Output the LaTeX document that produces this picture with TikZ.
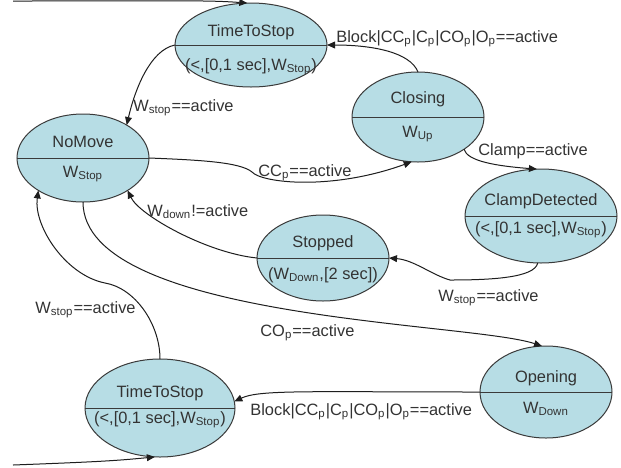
\documentclass[tikz,border=0pt]{standalone}
\usepackage{fontspec}
\setmainfont{Liberation Sans}
\usetikzlibrary{arrows.meta,shapes.geometric}
\definecolor{StateFill}{HTML}{B7DDE5}
\definecolor{StateLine}{HTML}{3A3A3A}
\definecolor{Ink}{HTML}{333333}
\definecolor{Wire}{HTML}{1E1E1E}
\tikzset{
 state/.style={ellipse, draw=StateLine, fill=StateFill, line width=0.5pt, inner sep=0pt, outer sep=0pt},
 stext/.style={anchor=base, inner sep=0pt, text=Ink},
 guard/.style={anchor=base west, inner sep=0pt, text=Ink},
 divider/.style={draw=StateLine, line width=0.5pt},
 trans/.style={-{Triangle[length=4pt,width=3.4pt]}, draw=Wire, line width=0.5pt}
}
\newcommand{\ssub}[1]{\textsubscript{#1}}

\begin{document}
\begin{tikzpicture}[x=0.5pt, y=-0.5pt, font=\fontsize{8.2}{10}\selectfont]
\fill[white] (0,0) rectangle (621,467);
\useasboundingbox (0,0) rectangle (621,467);

% states
\node[state, minimum width=76pt, minimum height=42pt] (ttsA) at (251,45) {};
\node[state, minimum width=66pt, minimum height=44pt] (noMove) at (83,158) {};
\node[state, minimum width=66pt, minimum height=45pt] (closing) at (418,117) {};
\node[state, minimum width=76pt, minimum height=47pt] (clampDet) at (541,216) {};
\node[state, minimum width=66pt, minimum height=43pt] (stopped) at (323,258) {};
\node[state, minimum width=75pt, minimum height=49pt] (ttsB) at (160,408) {};
\node[state, minimum width=66pt, minimum height=46pt] (opening) at (546,392) {};
\foreach \s in {ttsA,noMove,closing,clampDet,stopped,ttsB,opening}
  \draw[divider] (\s.west) -- (\s.east);

% state texts
\node[stext] (ttsAU) at (251,36) {TimeToStop};
\node[stext] (ttsAL) at (251,70) {(<,[0,1 sec],W\ssub{Stop})};
\node[stext] (noMoveU) at (83,147) {NoMove};
\node[stext] (noMoveL) at (83,177) {W\ssub{Stop}};
\node[stext] (closingU) at (418,103) {Closing};
\node[stext] (closingL) at (418,137) {W\ssub{Up}};
\node[stext] (clampDetU) at (541,205) {ClampDetected};
\node[stext] (clampDetL) at (541,233) {(<,[0,1 sec],W\ssub{Stop})};
\node[stext] (stoppedU) at (323,247) {Stopped};
\node[stext] (stoppedL) at (323,279) {(W\ssub{Down},[2 sec])};
\node[stext] (ttsBU) at (160,397) {TimeToStop};
\node[stext] (ttsBL) at (160,423) {(<,[0,1 sec],W\ssub{Stop})};
\node[stext] (openingU) at (546,382) {Opening};
\node[stext] (openingL) at (546,413) {W\ssub{Down}};

% guards
\node[guard] (gStopTop) at (133,111) {W\ssub{stop}==active};
\node[guard] (gBlockTop) at (336,42) {Block|CC\ssub{p}|C\ssub{p}|CO\ssub{p}|O\ssub{p}==active};
\node[guard] (gCC) at (258,176) {CC\ssub{p}==active};
\node[guard] (gClamp) at (478,155) {Clamp==active};
\node[guard] (gDown) at (147,216) {W\ssub{down}!=active};
\node[guard] (gStopRight) at (438,301) {W\ssub{stop}==active};
\node[guard] (gStopLeft) at (35,313) {W\ssub{stop}==active};
\node[guard] (gCO) at (260,336) {CO\ssub{p}==active};
\node[guard] (gBlockBot) at (250,415) {Block|CC\ssub{p}|C\ssub{p}|CO\ssub{p}|O\ssub{p}==active};

% transitions
\coordinate (inTop) at (13,1);
\coordinate (inBot) at (13,465);
\coordinate (kCC) at (252,172);
\coordinate (kSt) at (450,280);
\coordinate (kTt) at (105,283);
\draw[trans] (inTop) .. controls +(170,0) and +(-40,-3) .. (ttsA.95);
\draw[trans] (ttsA.west) .. controls +(-25,5) and +(8,-35) .. (noMove.37);
\draw[trans] (closing.north) .. controls +(-8,-20) and +(45,0) .. (ttsA.east);
\draw[trans] (noMove.east) .. controls +(50,2) and +(-12,-10) .. (kCC)
  .. controls +(10,11) and +(-80,29) .. (closing.-98);
\draw[trans] (closing.-35) .. controls +(3,12) and +(-40,-3) .. (clampDet.95);
\draw[trans] (clampDet.-94) .. controls +(-3,15) and +(40,0) .. (kSt)
  .. controls +(-18,-5) and +(25,2) .. (stopped.east);
\draw[trans] (stopped.west) .. controls +(-50,-5) and +(12,25) .. (noMove.-36);
\draw[trans] (noMove.south) .. controls +(0,118) and +(-72,-24) .. (opening.95);
\draw[trans] (ttsB.north) .. controls +(0,-35) and +(30,5) .. (kTt)
  .. controls +(-40,-8) and +(-5,35) .. (noMove.-144);
\draw[trans] (opening.west) .. controls +(-170,0) and +(25,-12) .. (ttsB.5);
\draw[trans] (inBot) .. controls +(80,-3) and +(-40,4) .. (ttsB.-96);
\end{tikzpicture}
\end{document}
